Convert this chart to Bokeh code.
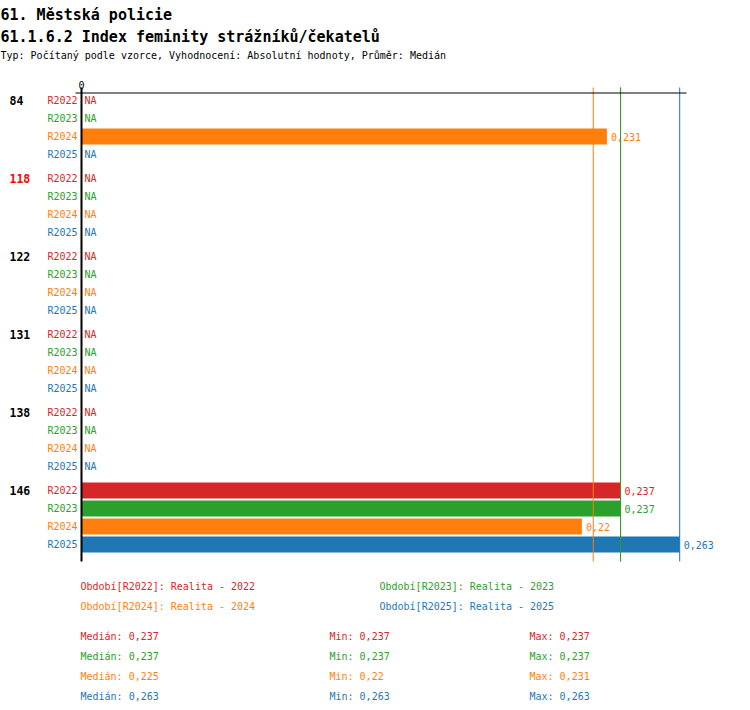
from bokeh.plotting import figure
from bokeh.models import Range1d, ColumnDataSource
from bokeh.core.properties import value
from bokeh.embed import file_html
from bokeh.resources import INLINE

# ---------------- data ----------------
groups = ["84", "118", "122", "131", "138", "146"]
highlight_group = "118"
series = ["R2022", "R2023", "R2024", "R2025"]
series_colors = ["#d62728", "#2ca02c", "#ff7f0e", "#1f77b4"]
r2022 = [None, None, None, None, None, 0.237]
r2023 = [None, None, None, None, None, 0.237]
r2024 = [0.231, None, None, None, None, 0.22]
r2025 = [None, None, None, None, None, 0.263]
series_values = [r2022, r2023, r2024, r2025]
legend_labels = ["Období[R2022]: Realita - 2022", "Období[R2023]: Realita - 2023",
                 "Období[R2024]: Realita - 2024", "Období[R2025]: Realita - 2025"]
medians = [0.237, 0.237, 0.225, 0.263]
mins = [0.237, 0.237, 0.22, 0.263]
maxs = [0.237, 0.237, 0.231, 0.263]
title1 = "61. Městská policie"
title2 = "61.1.6.2 Index feminity strážníků/čekatelů"
title3 = "Typ: Počítaný podle vzorce, Vyhodnocení: Absolutní hodnoty, Průměr: Medián"

# ---------------- layout ----------------
W, H = 734, 702
K = 2274.5          # px per unit
X0 = 81             # px of zero
ROW = 18.0          # px per row
ROW0 = 100.0        # px of first row centre
GAP = 6.0 / ROW     # group gap in rows
FONT = value("DejaVu Sans Mono")

def fmt(v):
    return ("%g" % v).replace(".", ",")

p = figure(width=W, height=H, output_backend="svg", toolbar_location=None,
           x_range=Range1d(-X0 / K, (W - X0) / K),
           y_range=Range1d((H - ROW0) / ROW, -ROW0 / ROW),
           min_border=0, x_axis_location=None, y_axis_location=None,
           outline_line_color=None, background_fill_color="white",
           border_fill_color="white")
p.extra_x_ranges = {"px": Range1d(0, W)}
p.extra_y_ranges = {"px": Range1d(H, 0)}
p.xgrid.visible = False
p.ygrid.visible = False

def row_pos(g, s):
    return g * (len(series) + GAP) + s

# bars, value labels, NA labels, series labels
for s, (name, col, vals) in enumerate(zip(series, series_colors, series_values)):
    ys = [row_pos(g, s) for g in range(len(groups))]
    bar_y = [y for y, v in zip(ys, vals) if v is not None]
    bar_v = [v for v in vals if v is not None]
    na_y = [y for y, v in zip(ys, vals) if v is None]
    src = ColumnDataSource(dict(y=bar_y, v=bar_v, t=[fmt(v) for v in bar_v]))
    p.hbar(y="y", left=0, right="v", height=16 / ROW, source=src,
           fill_color=col, line_color=None)
    p.text(x="v", y="y", text="t", source=src, x_offset=4, text_color=col,
           text_font=FONT, text_font_size="10px", text_baseline="middle",
           text_align="left")
    p.text(x=[0] * len(na_y), y=na_y, text=["NA"] * len(na_y), x_offset=3,
           text_color=col, text_font=FONT, text_font_size="10px",
           text_baseline="middle", text_align="left")
    p.text(x=[0] * len(ys), y=ys, text=[name] * len(ys), x_offset=-4,
           text_color=col, text_font=FONT, text_font_size="10px",
           text_baseline="middle", text_align="right")

# group labels
gy = [row_pos(g, 0) for g in range(len(groups))]
gcol = ["red" if g == highlight_group else "black" for g in groups]
p.text(x=[0] * len(groups), y=gy, text=groups, x_offset=-72, text_color=gcol,
       text_font=FONT, text_font_size="11.5px", text_font_style="bold",
       text_baseline="middle", text_align="left")

# median lines
for med, col in zip(medians, series_colors):
    p.segment(x0=[med], x1=[med], y0=[87], y1=[561], y_range_name="px",
              line_color=col, line_width=1)

# axis lines
p.segment(x0=[0], x1=[0], y0=[87], y1=[561], y_range_name="px",
          line_color="black", line_width=2)
p.segment(x0=[-6 / K], x1=[(686 - X0) / K], y0=[92.5], y1=[92.5],
          y_range_name="px", line_color="black", line_width=1)
p.text(x=[0], y=[84], text=["0"], y_range_name="px", text_color="black",
       text_font=FONT, text_font_size="10px", text_baseline="alphabetic",
       text_align="center")

# titles
p.text(x=[0], y=[14], text=[title1], x_range_name="px", y_range_name="px",
       text_font=FONT, text_font_size="15px", text_font_style="bold",
       text_color="black", text_baseline="alphabetic")
p.text(x=[0], y=[36], text=[title2], x_range_name="px", y_range_name="px",
       text_font=FONT, text_font_size="15px", text_font_style="bold",
       text_color="black", text_baseline="alphabetic")
p.text(x=[0], y=[55], text=[title3], x_range_name="px", y_range_name="px",
       text_font=FONT, text_font_size="10px", text_color="black",
       text_baseline="alphabetic")

# legend
lx = [80, 379, 80, 379]
ly = [586, 586, 606, 606]
p.text(x=lx, y=ly, text=legend_labels, x_range_name="px", y_range_name="px",
       text_color=series_colors, text_font=FONT, text_font_size="10px",
       text_baseline="alphabetic")

# stats
sy = [636, 656, 676, 696]
p.text(x=[80] * 4, y=sy, text=["Medián: " + fmt(v) for v in medians],
       x_range_name="px", y_range_name="px", text_color=series_colors,
       text_font=FONT, text_font_size="10px", text_baseline="alphabetic")
p.text(x=[329] * 4, y=sy, text=["Min: " + fmt(v) for v in mins],
       x_range_name="px", y_range_name="px", text_color=series_colors,
       text_font=FONT, text_font_size="10px", text_baseline="alphabetic")
p.text(x=[529] * 4, y=sy, text=["Max: " + fmt(v) for v in maxs],
       x_range_name="px", y_range_name="px", text_color=series_colors,
       text_font=FONT, text_font_size="10px", text_baseline="alphabetic")

open("out.html", "w").write(file_html(p, INLINE))
